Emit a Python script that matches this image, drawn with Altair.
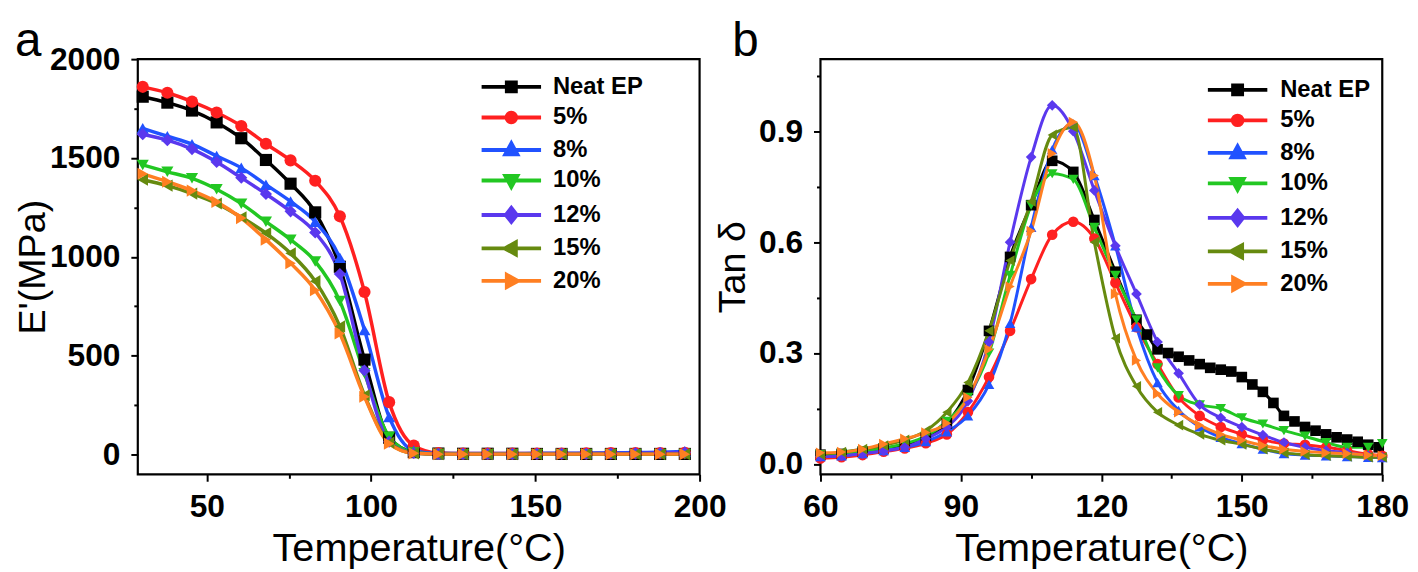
import altair as alt
import pandas as pd

FONT = "Liberation Sans"

SERIES = ["Neat EP", "5%", "8%", "10%", "12%", "15%", "20%"]
COLORS = ["#000000", "#FF2020", "#2152FF", "#22C722", "#5A38EE", "#668A0F", "#FF7F22"]
SHAPES = ["square", "circle", "triangle-up", "triangle-down", "diamond", "triangle-left", "triangle-right"]

# ---------------- panel a : storage modulus ----------------
TEMP_A = [30.5, 38, 45.5, 53, 60.5, 68, 75.5, 83, 90.5, 98, 105.5, 113, 120.5, 128,
          135.5, 143, 150.5, 158, 165.5, 173, 180.5, 188, 195.5]
E_NEAT = [1810, 1780, 1740, 1680, 1600, 1490, 1370, 1225, 950, 480, 85, 12, 5, 4, 4, 4, 3, 3, 3, 3, 3, 3, 3]
E_5 = [1860, 1830, 1785, 1730, 1662, 1572, 1488, 1385, 1205, 822, 265, 45, 8, 5, 5, 5, 5, 5, 6, 7, 8, 8, 9]
E_8 = [1650, 1610, 1570, 1510, 1450, 1365, 1280, 1178, 995, 630, 190, 20, 5, 5, 5, 5, 6, 6, 7, 8, 10, 12, 15]
E_10 = [1465, 1430, 1397, 1342, 1269, 1178, 1087, 977, 776, 411, 90, 10, 3, 2, 2, 2, 2, 2, 2, 2, 2, 2, 2]
E_12 = [1620, 1590, 1545, 1480, 1400, 1318, 1230, 1123, 913, 425, 65, 8, 3, 3, 3, 3, 3, 4, 4, 5, 6, 8, 10]
E_15 = [1390, 1360, 1320, 1270, 1200, 1120, 1018, 877, 648, 300, 60, 6, 2, 2, 2, 2, 2, 2, 2, 2, 2, 2, 2]
E_20 = [1420, 1380, 1335, 1278, 1196, 1087, 968, 831, 612, 292, 55, 6, 2, 2, 2, 2, 2, 2, 2, 2, 2, 2, 2]

# ---------------- panel b : tan delta ----------------
TEMP_B = [60, 64.5, 69, 73.5, 78, 82.5, 87, 91.5, 96, 100.5, 105, 109.5, 114, 118.5, 123, 127.5,
          132, 136.5, 141, 145.5, 150, 154.5, 159, 163.5, 168, 172.5, 177, 180]
TEMP_B_NEAT = [60, 64.5, 69, 73.5, 78, 82.5, 87, 91.5, 96, 100.5, 105, 109.5, 114, 118.5, 123, 127.5,
               129.75, 132, 134.25, 136.5, 138.75, 141, 143.25, 145.5, 147.75, 150, 152.25, 154.5,
               156.75, 159, 161.25, 163.5, 165.75, 168, 170.25, 172.5, 174.75, 177, 179.25]
TAN_NEAT = [0.025, 0.027, 0.033, 0.042, 0.052, 0.07, 0.11, 0.20, 0.36, 0.56, 0.70, 0.82, 0.79, 0.66, 0.52, 0.39,
            0.35, 0.31, 0.30, 0.29, 0.28, 0.27, 0.26, 0.255, 0.25, 0.235, 0.215, 0.195, 0.165, 0.13,
            0.115, 0.10, 0.09, 0.08, 0.072, 0.066, 0.06, 0.052, 0.045]
TAN_5 = [0.015, 0.018, 0.024, 0.033, 0.042, 0.056, 0.08, 0.14, 0.235, 0.36, 0.50, 0.62, 0.655, 0.61, 0.49, 0.37,
         0.27, 0.18, 0.13, 0.10, 0.08, 0.065, 0.055, 0.052, 0.045, 0.036, 0.026, 0.022]
TAN_8 = [0.02, 0.022, 0.028, 0.036, 0.045, 0.06, 0.087, 0.13, 0.215, 0.38, 0.64, 0.85, 0.92, 0.78, 0.59, 0.37,
         0.22, 0.145, 0.10, 0.072, 0.055, 0.04, 0.028, 0.024, 0.022, 0.02, 0.018, 0.017]
TAN_10 = [0.025, 0.028, 0.035, 0.043, 0.055, 0.075, 0.115, 0.18, 0.30, 0.51, 0.70, 0.785, 0.77, 0.64, 0.51, 0.39,
          0.26, 0.185, 0.16, 0.15, 0.125, 0.108, 0.09, 0.075, 0.058, 0.045, 0.045, 0.055]
TAN_12 = [0.02, 0.022, 0.028, 0.035, 0.045, 0.068, 0.10, 0.17, 0.33, 0.60, 0.83, 0.97, 0.90, 0.74, 0.59, 0.46,
          0.33, 0.245, 0.16, 0.125, 0.10, 0.078, 0.058, 0.045, 0.036, 0.03, 0.022, 0.018]
TAN_15 = [0.025, 0.032, 0.04, 0.05, 0.065, 0.09, 0.14, 0.22, 0.36, 0.55, 0.71, 0.89, 0.91, 0.60, 0.34, 0.21,
          0.14, 0.105, 0.08, 0.064, 0.053, 0.04, 0.03, 0.025, 0.022, 0.02, 0.018, 0.018]
TAN_20 = [0.03, 0.032, 0.04, 0.054, 0.068, 0.085, 0.11, 0.18, 0.31, 0.48, 0.63, 0.84, 0.925, 0.78, 0.46, 0.28,
          0.19, 0.14, 0.105, 0.08, 0.064, 0.05, 0.04, 0.034, 0.03, 0.028, 0.024, 0.022]


def long_frame(temps, values, yname):
    rows = []
    for k, (s, t_list, v_list) in enumerate(zip(SERIES, temps, values)):
        for t, v in zip(t_list, v_list):
            rows.append({"series": s, "T": t, yname: v, "k": k})
    return pd.DataFrame(rows)


df_a = long_frame([TEMP_A] * 7, [E_NEAT, E_5, E_8, E_10, E_12, E_15, E_20], "E")
df_b = long_frame([TEMP_B_NEAT] + [TEMP_B] * 6, [TAN_NEAT, TAN_5, TAN_8, TAN_10, TAN_12, TAN_15, TAN_20], "tan")

# ---------- legend symbols: line + marker, drawn as custom paths ----------
U = 7.0  # px per path unit (symbolSize 196 -> sqrt/2 = 7)


def P(x, y):
    return f"{x / U:.3f},{y / U:.3f}"


def marker_path(shape, mx):
    if shape == "square":
        h = 4.5
        return f"M{P(mx - h, -h)}L{P(mx + h, -h)}L{P(mx + h, h)}L{P(mx - h, h)}Z"
    if shape == "circle":
        r = 4.8
        return (f"M{P(mx - r, 0)}A{r / U:.3f},{r / U:.3f} 0 1 0 {P(mx + r, 0)}"
                f"A{r / U:.3f},{r / U:.3f} 0 1 0 {P(mx - r, 0)}Z")
    if shape == "triangle-up":
        return f"M{P(mx, -6.5)}L{P(mx + 6, 4.5)}L{P(mx - 6, 4.5)}Z"
    if shape == "triangle-down":
        return f"M{P(mx, 6.5)}L{P(mx + 6, -4.5)}L{P(mx - 6, -4.5)}Z"
    if shape == "diamond":
        return f"M{P(mx, -7)}L{P(mx + 5.5, 0)}L{P(mx, 7)}L{P(mx - 5.5, 0)}Z"
    if shape == "triangle-left":
        return f"M{P(mx - 6.5, 0)}L{P(mx + 4.5, -6)}L{P(mx + 4.5, 6)}Z"
    return f"M{P(mx + 6.5, 0)}L{P(mx - 4.5, -6)}L{P(mx - 4.5, 6)}Z"


LINE_L, LINE_R, MARK_X = -9.0, 51.0, 21.0
LEGEND_PATHS = [f"M{P(LINE_L, 0)}L{P(LINE_R, 0)}" + marker_path(s, MARK_X) for s in SHAPES]


def make_legend(lx, ly, loff):
    return alt.Legend(
        title=None, orient="none", legendX=lx, legendY=ly,
        labelFont=FONT, labelFontSize=24, labelFontWeight="bold", labelColor="black",
        symbolSize=196, symbolStrokeWidth=4, labelOffset=loff, rowPadding=4.8,
        padding=0, symbolOffset=0, symbolOpacity=1,
    )


def make_panel(df, yfield, xdom, xt, xm, ydom, yt, ym, yfmt, ytitle, letter, letter_x, letter_y,
               letter_size, legend, line_w, pt_size, ytitle_pad):
    xs = alt.Scale(domain=xdom, nice=False, zero=False)
    ys = alt.Scale(domain=ydom, nice=False, zero=False)
    cscale = alt.Scale(domain=SERIES, range=COLORS)
    base = alt.Chart(df)
    lines = base.mark_line(strokeWidth=line_w, interpolate="monotone").encode(
        x=alt.X("T:Q", scale=xs, axis=alt.Axis(
            values=xt, orient="bottom", title="Temperature(°C)", format="d",
            labelFontSize=32, titleFontSize=40, labelPadding=11, titlePadding=6,
            tickSize=7, tickWidth=2, domain=False, grid=False, labelFlush=False)),
        y=alt.Y(f"{yfield}:Q", scale=ys, axis=alt.Axis(
            values=yt, orient="left", title=ytitle, format=yfmt,
            labelFontSize=32, titleFontSize=38, labelPadding=11, titlePadding=ytitle_pad,
            tickSize=7, tickWidth=2, domain=False, grid=False, labelFlush=False)),
        color=alt.Color("series:N", scale=cscale, legend=None),
        order="T:Q",
    )
    points = base.mark_point(filled=True, size=pt_size, opacity=1).encode(
        x=alt.X("T:Q", scale=xs, axis=alt.Axis(
            values=xm, orient="bottom", labels=False, title=None,
            tickSize=4, tickWidth=2, domain=False, grid=False)),
        y=alt.Y(f"{yfield}:Q", scale=ys, axis=alt.Axis(
            values=ym, orient="left", labels=False, title=None,
            tickSize=4, tickWidth=2, domain=False, grid=False)),
        color=alt.Color("series:N", scale=cscale, legend=None),
        shape=alt.Shape("series:N", scale=alt.Scale(domain=SERIES, range=SHAPES), legend=None),
        order="k:Q",
    )
    # legend-only layer (no rows pass the filter; entries come from the explicit domains)
    key = base.transform_filter("datum.k < 0").mark_point(filled=True, opacity=1, strokeWidth=4).encode(
        color=alt.Color("series:N", scale=cscale, legend=legend),
        stroke=alt.Stroke("series:N", scale=cscale, legend=legend),
        shape=alt.Shape("series:N", scale=alt.Scale(domain=SERIES, range=LEGEND_PATHS), legend=legend),
    )
    lab = alt.Chart(pd.DataFrame({"txt": [letter]})).mark_text(
        font=FONT, fontSize=letter_size, align="left", baseline="alphabetic", color="black"
    ).encode(x=alt.value(letter_x), y=alt.value(letter_y), text="txt:N")
    return alt.layer(lines, points, key, lab).resolve_axis(
        x="independent", y="independent"
    ).resolve_scale(
        color="independent", shape="independent", stroke="independent"
    ).properties(width=567, height=419)


panel_a = make_panel(
    df_a, "E", [29, 200], [50, 100, 150, 200], [75, 125, 175],
    [-100, 2000], [0, 500, 1000, 1500, 2000], [250, 750, 1250, 1750], "d", "E'(MPa)",
    "a", -124, -3, 48, make_legend(344, 16, 51), 3.5, 150, -3)

panel_b = make_panel(
    df_b, "tan", [60, 180], [60, 90, 120, 150, 180], [75, 105, 135, 165],
    [-0.028, 1.095], [0, 0.3, 0.6, 0.9], [0.15, 0.45, 0.75, 1.05], ".1f", "Tan δ",
    "b", -89, -3, 48, make_legend(388, 19, 52), 3, 115, 6)

chart = alt.hconcat(panel_a, panel_b, spacing=122, bounds="flush").properties(
    padding={"left": 5, "top": 6, "right": 0, "bottom": 0}
).configure_view(
    stroke="black", strokeWidth=2.2
).configure_axis(
    labelFont=FONT, titleFont=FONT, labelColor="black", titleColor="black",
    tickColor="black", labelFontWeight="bold", titleFontWeight="normal"
)

chart.save("out.html", embed_options={"renderer": "svg", "actions": False})
